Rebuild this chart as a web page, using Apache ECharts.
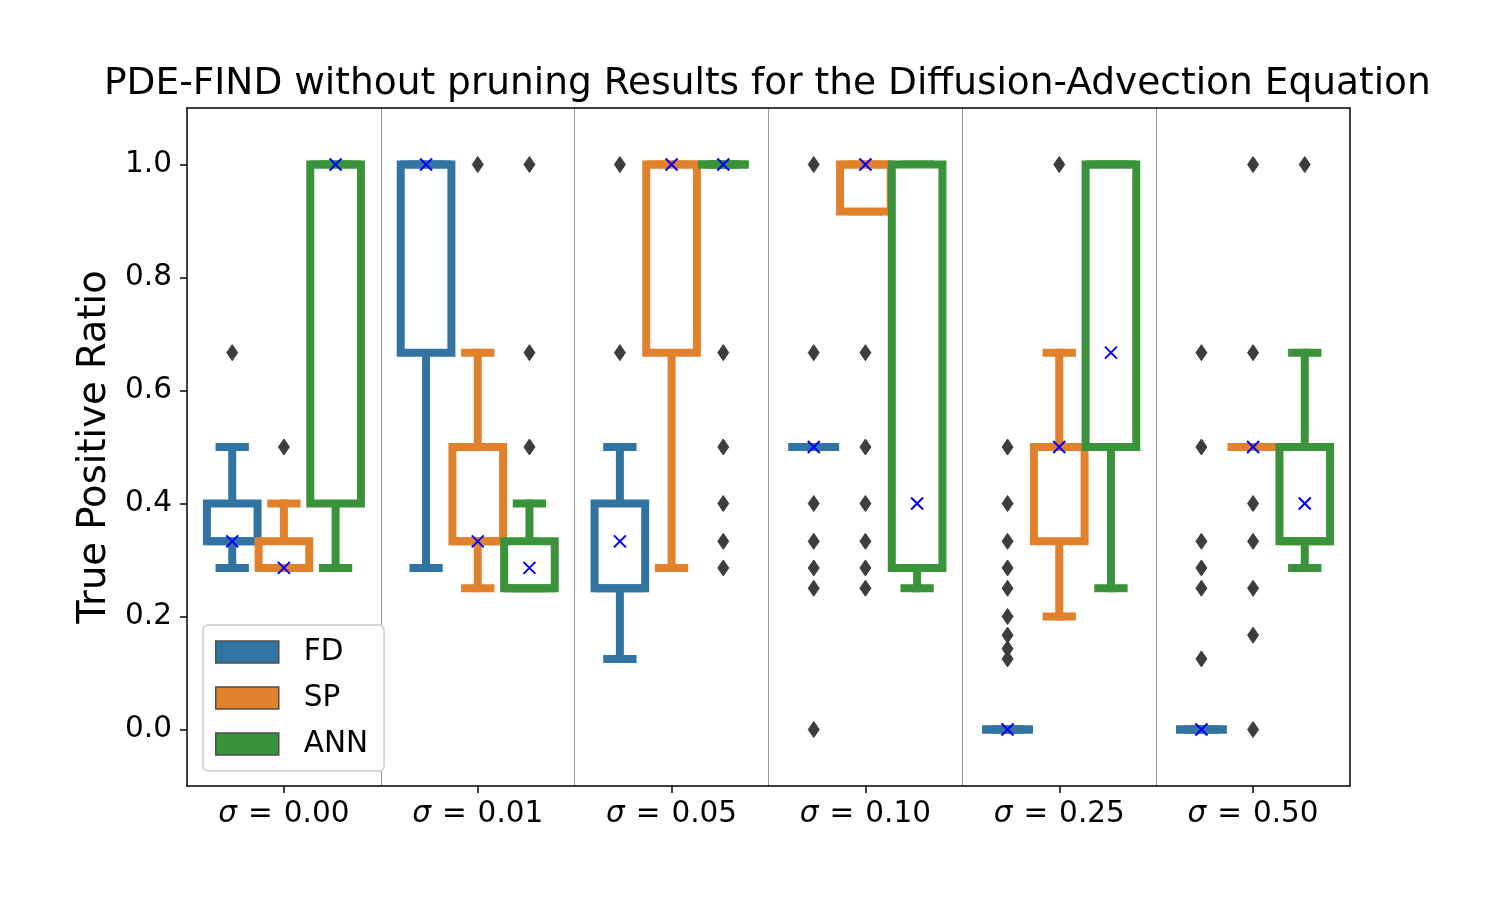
<!DOCTYPE html>
<html>
<head>
<meta charset="utf-8">
<title>PDE-FIND without pruning</title>
<script src="https://cdn.jsdelivr.net/npm/echarts@6/dist/echarts.min.js"></script>
<style>
  html, body { margin: 0; padding: 0; background: #fff; }
  #chart { width: 1500px; height: 900px; }
</style>
</head>
<body>
<div id="chart"></div>
<script>
// noise levels (x categories) and the three methods (hue)
const sigmas = ['0.00', '0.01', '0.05', '0.10', '0.25', '0.50'];
const methods = ['FD', 'SP', 'ANN'];
const yTicks = [0, 0.2, 0.4, 0.6, 0.8, 1.0];

// box stats per sigma: [lower whisker, q1, median, q3, upper whisker]
const fdBoxes = [
  [0.286, 0.333, 0.333, 0.4, 0.5],
  [0.286, 0.667, 1.0, 1.0, 1.0],
  [0.125, 0.25, 0.25, 0.4, 0.5],
  [0.5, 0.5, 0.5, 0.5, 0.5],
  [0, 0, 0, 0, 0],
  [0, 0, 0, 0, 0]
];
const spBoxes = [
  [0.286, 0.286, 0.286, 0.333, 0.4],
  [0.25, 0.333, 0.333, 0.5, 0.667],
  [0.286, 0.667, 1.0, 1.0, 1.0],
  [0.917, 0.917, 1.0, 1.0, 1.0],
  [0.2, 0.333, 0.5, 0.5, 0.667],
  [0.5, 0.5, 0.5, 0.5, 0.5]
];
const annBoxes = [
  [0.286, 0.4, 1.0, 1.0, 1.0],
  [0.25, 0.25, 0.25, 0.333, 0.4],
  [1, 1, 1, 1, 1],
  [0.25, 0.286, 0.286, 1.0, 1.0],
  [0.25, 0.5, 1.0, 1.0, 1.0],
  [0.286, 0.333, 0.333, 0.5, 0.667]
];

// means (blue x markers)
const fdMeans = [0.333, 1.0, 0.333, 0.5, 0, 0];
const spMeans = [0.286, 0.333, 1.0, 1.0, 0.5, 0.5];
const annMeans = [1.0, 0.286, 1.0, 0.4, 0.667, 0.4];

// fliers per sigma
const fdOutliers = [
  [0.667],
  [],
  [1.0, 0.667],
  [1.0, 0.667, 0.4, 0.333, 0.286, 0.25, 0.0],
  [0.5, 0.4, 0.333, 0.286, 0.25, 0.2, 0.167, 0.143, 0.125],
  [0.667, 0.5, 0.333, 0.286, 0.25, 0.125]
];
const spOutliers = [
  [0.5],
  [1.0],
  [],
  [0.667, 0.5, 0.4, 0.333, 0.286, 0.25],
  [1.0],
  [1.0, 0.667, 0.4, 0.333, 0.25, 0.167, 0.0]
];
const annOutliers = [
  [],
  [1.0, 0.667, 0.5],
  [0.667, 0.5, 0.4, 0.333, 0.286],
  [],
  [],
  [1.0]
];

const colors = ['#3274a1', '#e1812c', '#3a923a'];
const boxes = [fdBoxes, spBoxes, annBoxes];
const means = [fdMeans, spMeans, annMeans];
const outliers = [fdOutliers, spOutliers, annOutliers];
const LW = 8;
const FONT = 'DejaVu Sans';

// x position of a hue inside its category band
function hueX(api, cat, v, hue) {
  const slot = api.size([1, 0])[0] * 0.8 / 3;
  const p = api.coord([cat, v]);
  return [p[0] + (hue - 1) * slot, p[1], slot];
}

function boxItem(hue) {
  return function (params, api) {
    const cat = api.value(0);
    const [cx, , slot] = hueX(api, cat, 0, hue);
    const half = slot * 0.98 / 2;
    const capHalf = half / 2;
    const yy = i => api.coord([cat, api.value(i)])[1];
    const lo = yy(1), q1 = yy(2), med = yy(3), q3 = yy(4), hi = yy(5);
    const st = { stroke: colors[hue], lineWidth: LW, fill: null, lineCap: 'square' };
    const line = (x1, y1, x2, y2, s) => ({ type: 'line', shape: { x1, y1, x2, y2 }, style: s || st });
    return {
      type: 'group',
      children: [
        line(cx, lo, cx, q1),
        line(cx, q3, cx, hi),
        line(cx - capHalf, lo, cx + capHalf, lo),
        line(cx - capHalf, hi, cx + capHalf, hi),
        {
          type: 'rect',
          shape: { x: cx - half, y: q3, width: half * 2, height: q1 - q3 },
          style: { stroke: colors[hue], lineWidth: LW, fill: '#fff', lineJoin: 'miter' }
        },
        line(cx - half, med, cx + half, med, { stroke: colors[hue], lineWidth: LW, lineCap: 'butt' })
      ]
    };
  };
}

function outlierItem(hue) {
  return function (params, api) {
    const [x, y] = hueX(api, api.value(0), api.value(1), hue);
    return {
      type: 'polygon',
      shape: { points: [[x, y - 8], [x + 5.5, y], [x, y + 8], [x - 5.5, y]] },
      style: { fill: '#3d3d3d', stroke: '#3d3d3d', lineWidth: 1 }
    };
  };
}

function meanItem(hue) {
  return function (params, api) {
    const [x, y] = hueX(api, api.value(0), api.value(1), hue);
    const s = { stroke: '#0000ff', lineWidth: 2 };
    const d = 6;
    return {
      type: 'group',
      children: [
        { type: 'line', shape: { x1: x - d, y1: y - d, x2: x + d, y2: y + d }, style: s },
        { type: 'line', shape: { x1: x - d, y1: y + d, x2: x + d, y2: y - d }, style: s }
      ]
    };
  };
}

const series = [];
methods.forEach((m, h) => {
  series.push({
    name: m,
    type: 'custom',
    renderItem: boxItem(h),
    itemStyle: { color: colors[h] },
    encode: { x: 0, y: [1, 2, 3, 4, 5] },
    data: boxes[h].map((b, i) => [i].concat(b)),
    z: 2
  });
});
methods.forEach((m, h) => {
  const pts = [];
  outliers[h].forEach((list, i) => list.forEach(v => pts.push([i, v])));
  series.push({
    name: m + ' outliers',
    type: 'custom',
    renderItem: outlierItem(h),
    encode: { x: 0, y: 1 },
    data: pts,
    z: 3
  });
});
methods.forEach((m, h) => {
  series.push({
    name: m + ' mean',
    type: 'custom',
    renderItem: meanItem(h),
    encode: { x: 0, y: 1 },
    data: means[h].map((v, i) => [i, v]),
    z: 4
  });
});

const chart = echarts.init(document.getElementById('chart'));
chart.setOption({
  animation: false,
  backgroundColor: '#fff',
  textStyle: { fontFamily: FONT },
  title: {
    text: 'PDE-FIND without pruning Results for the Diffusion-Advection Equation',
    left: 104,
    top: 65,
    padding: 0,
    textStyle: { fontFamily: FONT, fontSize: 37.5, fontWeight: 'normal', color: '#000' }
  },
  legend: {
    orient: 'vertical',
    left: 203,
    top: 625,
    data: methods.map(m => ({ name: m, icon: 'rect' })),
    itemWidth: 63,
    itemHeight: 22,
    itemGap: 16,
    padding: [12, 16, 12, 12],
    backgroundColor: '#fff',
    borderColor: '#cccccc',
    borderWidth: 1.5,
    borderRadius: 5,
    itemStyle: { borderColor: '#4d4d4d', borderWidth: 1.5 },
    textStyle: { fontFamily: FONT, fontSize: 29.5, color: '#000', padding: [0, 0, 0, 20], lineHeight: 30 },
    selectedMode: false,
    z: 10
  },
  grid: { left: 187, top: 108, width: 1163, height: 678 },
  xAxis: [{
    type: 'category',
    data: sigmas,
    boundaryGap: true,
    axisLine: { show: true, onZero: false, lineStyle: { color: '#000', width: 1.5 } },
    axisTick: { show: true, alignWithLabel: true, interval: 0, length: 7, lineStyle: { color: '#000', width: 1.5 } },
    axisLabel: {
      interval: 0,
      margin: 13,
      fontSize: 29.5,
      color: '#000',
      fontFamily: FONT,
      formatter: v => '{i|σ}{e|=}' + v,
      rich: {
        i: { fontStyle: 'italic', fontSize: 29.5, fontFamily: FONT, color: '#000' },
        e: { fontSize: 29.5, fontFamily: FONT, color: '#000', padding: [0, 11, 0, 11] }
      }
    },
    splitLine: { show: true, interval: 0, showMinLine: false, showMaxLine: false, lineStyle: { color: '#999', width: 1 } }
  }, {
    type: 'category',
    data: sigmas,
    position: 'top',
    axisLine: { show: true, onZero: false, lineStyle: { color: '#000', width: 1.5 } },
    axisTick: { show: false },
    axisLabel: { show: false },
    splitLine: { show: false }
  }],
  yAxis: [{
    type: 'value',
    min: -0.1,
    max: 1.1,
    name: 'True Positive Ratio',
    nameLocation: 'middle',
    nameGap: 73,
    nameTextStyle: { fontFamily: FONT, fontSize: 38.5, color: '#000' },
    axisLine: { show: true, onZero: false, lineStyle: { color: '#000', width: 1.5 } },
    axisTick: { show: true, length: 7, customValues: yTicks, lineStyle: { color: '#000', width: 1.5 } },
    axisLabel: {
      margin: 15,
      fontSize: 29.5,
      color: '#000',
      fontFamily: FONT,
      customValues: yTicks,
      formatter: v => v.toFixed(1)
    },
    splitLine: { show: false }
  }, {
    type: 'value',
    min: -0.1,
    max: 1.1,
    position: 'right',
    axisLine: { show: true, onZero: false, lineStyle: { color: '#000', width: 1.5 } },
    axisTick: { show: false },
    axisLabel: { show: false },
    splitLine: { show: false }
  }],
  series: series
});
</script>
</body>
</html>
